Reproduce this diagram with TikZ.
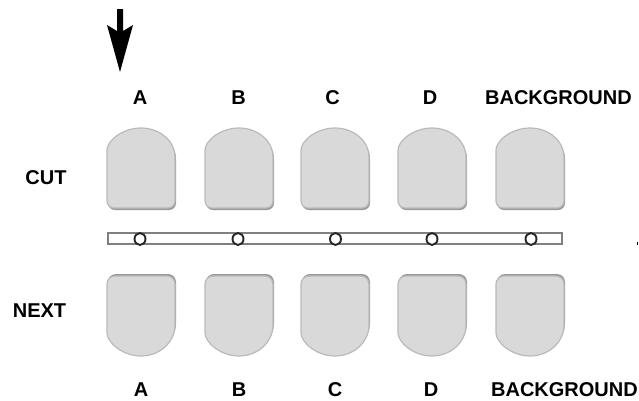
\documentclass[tikz,border=0pt]{standalone}
\usepackage{fontspec}
\setmainfont{Liberation Sans}
\usetikzlibrary{shapes.geometric}
\begin{document}
\begin{tikzpicture}[x=1pt,y=-1pt,
  lbl/.style={font=\fontsize{20}{24}\selectfont\bfseries, inner sep=0pt, anchor=center},
  keyshadow/.style={fill=black!40, draw=none},
  keyface/.style={fill=black!15, draw=black!27, line width=1.2pt},
  upkey/.pic={
    \fill[keyshadow] (-33,30) arc[start angle=180,end angle=360,x radius=34,y radius=29]
       [rounded corners=7pt] -- (35,81) -- (-33,81) -- cycle;
    \path[keyface] (-34,28) arc[start angle=180,end angle=360,x radius=34,y radius=29]
       [rounded corners=7pt] -- (34,79) -- (-34,79) -- cycle;
  },
  lowkey/.pic={
    \fill[keyshadow] (-33,47) arc[start angle=180,end angle=0,x radius=34,y radius=31]
       [rounded corners=8pt] -- (35,-2) -- (-33,-2) -- cycle;
    \path[keyface] (-34,49) arc[start angle=180,end angle=0,x radius=34,y radius=31]
       [rounded corners=8pt] -- (34,0) -- (-34,0) -- cycle;
  },
  bar/.style={fill=white, draw=black!50, line width=1.8pt},
  knob/.style={fill=white, draw=black!85, line width=1.9pt, ellipse, minimum width=11pt, minimum height=12pt, inner sep=0pt},
]
\useasboundingbox (0,0) rectangle (639,400);

% arrow
\coordinate (arrtop) at (120,9);
\coordinate (arrtip) at (120,72);
\fill[black] (arrtop) ++(-3,0) -- ++(6,0) -- ++(0,22) -- (133,25) -- (arrtip) -- (107,25) -- (117,31) -- cycle;

% top labels
\node[lbl] (tA) at (140,98) {A};
\node[lbl] (tB) at (238.5,98) {B};
\node[lbl] (tC) at (332.5,98) {C};
\node[lbl] (tD) at (430,98) {D};
\node[lbl] (tBG) at (558.5,98) {BACKGROUND};

% row labels
\node[lbl] (cut) at (46,178) {CUT};
\node[lbl] (next) at (39.5,311) {NEXT};

% keys
\foreach \cx/\nm in {141/A,239/B,335/C,432/D,530/BG}{
  \pic (u\nm) at (\cx,129) {upkey};
  \pic (l\nm) at (\cx,276) {lowkey};
}

% bar
\draw[bar] (108,233) rectangle (562,244);
\foreach \cx/\nm in {140/A,238/B,335.5/C,432/D,531/BG}{
  \node[knob] (k\nm) at (\cx,239) {};
}

% tiny mark
\draw[black, line width=1pt] (637.5,241.5) -- (637.5,244.5);

% bottom labels
\node[lbl] (bA) at (141,390) {A};
\node[lbl] (bB) at (239,390) {B};
\node[lbl] (bC) at (335,390) {C};
\node[lbl] (bD) at (431,390) {D};
\node[lbl] (bBG) at (564.5,390) {BACKGROUND};
\end{tikzpicture}
\end{document}
